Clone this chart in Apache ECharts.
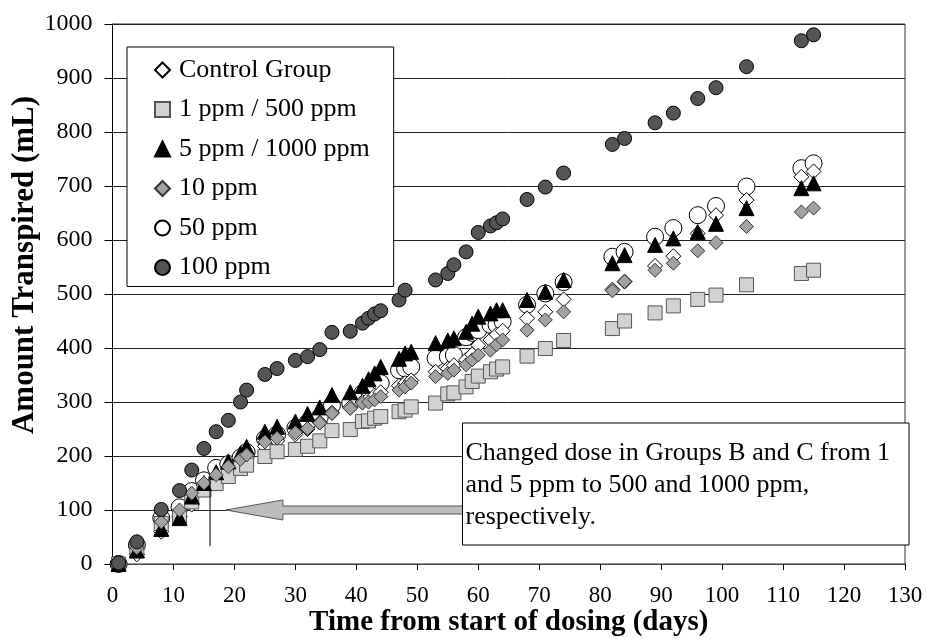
<!DOCTYPE html>
<html><head><meta charset="utf-8">
<script src="https://cdn.jsdelivr.net/npm/echarts@6/dist/echarts.min.js"></script>
<style>html,body{margin:0;padding:0;background:#fff}#c{width:927px;height:639px}</style>
</head><body><div id="c"></div>
<script>
// ---- data ----
const days = [1,4,8,11,13,15,17,19,21,22,25,27,30,32,34,36,39,41,42,43,44,47,48,49,53,55,56,58,59,60,62,63,64,68,71,74,82,84,89,92,96,99,104,113,115];
const seriesNames = ['Control Group','1 ppm / 500 ppm','5 ppm / 1000 ppm','10 ppm','50 ppm','100 ppm'];
const controlGroup = [0,18,60,88,110,145,160,175,187,197,218,228,240,250,262,280,290,300,306,312,318,330,335,340,356,362,368,378,388,405,415,425,432,455,467,490,508,523,552,570,612,646,674,717,727];
const ppm1_500 = [0,25,75,88,115,137,149,162,177,183,199,208,212,218,228,247,249,264,265,270,273,282,285,291,298,315,317,328,338,348,356,361,365,385,399,414,436,450,465,478,490,498,517,538,544];
const ppm5_1000 = [0,25,65,85,125,150,170,190,205,217,245,254,264,278,290,313,318,330,342,353,365,380,390,393,409,414,418,430,445,458,464,470,470,489,504,526,557,572,591,603,615,630,659,696,705];
const ppm10 = [0,30,78,100,131,150,165,180,194,202,226,233,243,251,261,279,288,298,300,304,310,322,328,335,347,353,359,369,378,387,396,406,415,433,452,467,506,523,544,557,580,595,625,652,659];
const ppm50 = [0,35,85,105,135,155,178,185,197,207,232,240,252,262,272,294,298,316,322,331,335,359,362,365,381,384,387,420,428,433,443,443,449,480,501,522,569,578,606,622,646,663,699,733,742];
const ppm100 = [2,41,101,136,174,214,245,266,300,322,351,362,377,384,397,429,431,446,455,463,469,489,507,null,526,538,554,578,null,614,626,632,639,675,698,724,777,788,817,835,862,882,921,969,980];
const xTicks = {min:0, max:130, interval:10};
const yTicks = {min:0, max:1000, interval:100};
const annotationText = 'Changed dose in Groups B and C from 1\nand 5 ppm to 500 and 1000 ppm,\nrespectively.';
const xTitle = 'Time from start of dosing (days)';
const yTitle = 'Amount Transpired (mL)';

// ---- chart ----
const FONT = 'Liberation Serif';
const chart = echarts.init(document.getElementById('c'), null, {renderer:'canvas'});
function pairs(v){ const out=[]; days.forEach((d,i)=>{ if(v[i]!=null) out.push([d,v[i]]); }); return out; }

const styles = [
  {data:controlGroup, symbol:'diamond', size:15, fill:'#ffffff', border:'#000000', z:3},
  {data:ppm1_500, symbol:'rect', size:14, fill:'#d2d2d2', border:'#555555', z:4},
  {data:ppm5_1000, symbol:'triangle', size:15, fill:'#000000', border:'#000000', z:5},
  {data:ppm10, symbol:'diamond', size:14, fill:'#a2a2a2', border:'#333333', z:6},
  {data:ppm50, symbol:'circle', size:17, fill:'#ffffff', border:'#000000', z:2},
  {data:ppm100, symbol:'circle', size:14, fill:'#555555', border:'#000000', z:7}
];

const series = styles.map((s,i)=>({
  name: seriesNames[i], type:'scatter', data: pairs(s.data),
  symbol: s.symbol, symbolSize: s.size, z: s.z,
  itemStyle:{color:s.fill, borderColor:s.border, borderWidth:1, opacity:1},
  emphasis:{disabled:true}, animation:false
}));

chart.setOption({
  animation:false,
  backgroundColor:'#ffffff',
  grid:{left:112.5, right:22, top:24, bottom:75, containLabel:false, outerBoundsMode:'none',
    show:true, borderColor:'#333', borderWidth:1, backgroundColor:'transparent'},
  xAxis:{type:'value', min:xTicks.min, max:xTicks.max, interval:xTicks.interval,
    name:xTitle, nameLocation:'middle', nameGap:44, nameMoveOverlap:false,
    nameTextStyle:{fontFamily:FONT, fontSize:29, fontWeight:'bold', color:'#000'},
    axisLine:{show:true, onZero:false, lineStyle:{color:'#444', width:1}},
    axisTick:{show:true, inside:false, length:6, lineStyle:{color:'#000'}},
    axisLabel:{fontFamily:FONT, fontSize:23, color:'#000', margin:20, formatter:v=>String(v)},
    splitLine:{show:false}},
  yAxis:{type:'value', min:yTicks.min, max:yTicks.max, interval:yTicks.interval,
    name:yTitle, nameLocation:'middle', nameGap:72, nameRotate:90, nameMoveOverlap:false,
    nameTextStyle:{fontFamily:FONT, fontSize:31, fontWeight:'bold', color:'#000', padding:[0,0,0,58]},
    axisLine:{show:true, lineStyle:{color:'#000', width:1}},
    axisTick:{show:true, inside:false, length:8, lineStyle:{color:'#000'}},
    axisLabel:{fontFamily:FONT, fontSize:24, color:'#000', margin:20, formatter:v=>String(v)},
    splitLine:{show:true, lineStyle:{color:'#222', width:1}}},
  legend:{orient:'vertical', left:127, top:47, itemWidth:15, itemHeight:15, itemGap:13.5,
    padding:[10,24,6,27], backgroundColor:'#fff', borderColor:'#000', borderWidth:1,
    textStyle:{fontFamily:FONT, fontSize:26, color:'#000', lineHeight:26, padding:[0,0,0,4]},
    data:seriesNames, selectedMode:false},
  series: series
});

function p(x,y){ return chart.convertToPixel({gridIndex:0},[x,y]); }
const boxL = 462.5, boxT = 423, boxR = 909, boxB = 545;
const tip = p(18.6,100);
const vTop = p(16,159), vBot = p(16,33);
const tx = tip[0], ty = tip[1];
chart.setOption({graphic:[
  {type:'line', z:10, shape:{x1:vTop[0], y1:vTop[1], x2:vBot[0], y2:vBot[1]}, style:{stroke:'#000', lineWidth:1}},
  {type:'polygon', z:10, shape:{points:[[tx,ty],[tx+57,ty-10],[tx+57,ty-4],[boxL,ty-4],[boxL,ty+4],[tx+57,ty+4],[tx+57,ty+10]]},
    style:{fill:'#bdbdbd', stroke:'#555', lineWidth:1}},
  {type:'rect', z:11, shape:{x:boxL, y:boxT, width:boxR-boxL, height:boxB-boxT}, style:{fill:'#fff', stroke:'#000', lineWidth:1}},
  {type:'text', z:12, x:boxL+3, y:boxT+14, style:{text:annotationText, font:'26px '+FONT, fill:'#000', lineHeight:32, align:'left', verticalAlign:'top'}}
]});
</script></body></html>
